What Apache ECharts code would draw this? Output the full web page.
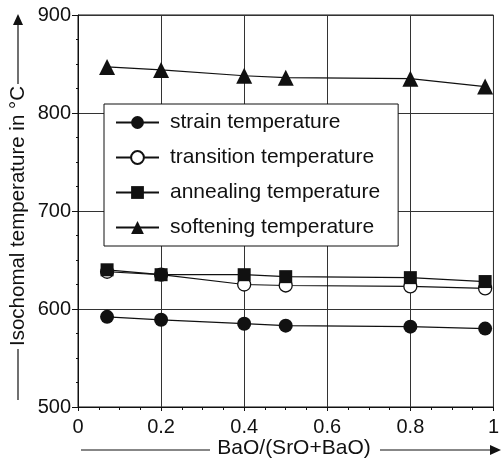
<!DOCTYPE html>
<html>
<head>
<meta charset="utf-8">
<script src="https://cdn.jsdelivr.net/npm/echarts@6/dist/echarts.min.js"></script>
<style>
html,body{margin:0;padding:0;background:#fff;}
#c{width:502px;height:461px;}
</style>
</head>
<body>
<div id="c"></div>
<script>
const xValues = [0.07, 0.2, 0.4, 0.5, 0.8, 0.98];
const strainTemp = [592, 589, 585, 583, 582, 580];
const transitionTemp = [638, 635, 625, 624, 623, 621];
const annealingTemp = [640, 635, 635, 633, 632, 628];
const softeningTemp = [847, 844, 838, 836, 835, 827];
const seriesNames = ['strain temperature', 'transition temperature', 'annealing temperature', 'softening temperature'];
const xTicks = [0, 0.2, 0.4, 0.6, 0.8, 1];
const yTicks = [500, 600, 700, 800, 900];

const FONT = '"Liberation Sans", Arial, Helvetica, sans-serif';
const INK = '#111';

function pairs(ys) { return xValues.map((x, i) => [x, ys[i]]); }

function mkSeries(name, ys, symbol, size, fill) {
  return {
    name: name,
    type: 'line',
    data: pairs(ys),
    symbol: symbol,
    symbolSize: size,
    showSymbol: true,
    lineStyle: { color: INK, width: 1.2 },
    itemStyle: { color: fill, borderColor: INK, borderWidth: fill === '#fff' ? 1.3 : 0 },
    emphasis: { disabled: true },
    z: 3
  };
}

const chart = echarts.init(document.getElementById('c'), null, { renderer: 'canvas' });
chart.setOption({
  animation: false,
  backgroundColor: '#fff',
  grid: { left: 78, right: 2, top: 15, bottom: 54, show: true, borderColor: INK, borderWidth: 1, backgroundColor: 'transparent' },
  xAxis: {
    type: 'value', min: xTicks[0], max: xTicks[xTicks.length - 1], interval: 0.2,
    axisLine: { show: true, lineStyle: { color: INK, width: 1 } },
    axisTick: { show: true, length: 4, lineStyle: { color: INK } },
    minorTick: { show: true, splitNumber: 4, length: 3, lineStyle: { color: INK } },
    splitLine: { show: true, lineStyle: { color: '#333', width: 1 } },
    axisLabel: { fontSize: 20, fontFamily: FONT, color: INK, margin: 10, formatter: v => String(+v.toFixed(1)) }
  },
  yAxis: {
    type: 'value', min: yTicks[0], max: yTicks[yTicks.length - 1], interval: 100,
    axisLine: { show: true, lineStyle: { color: INK, width: 1 } },
    axisTick: { show: true, length: 6, lineStyle: { color: INK } },
    minorTick: { show: true, splitNumber: 4, length: 2, lineStyle: { color: INK } },
    splitLine: { show: true, lineStyle: { color: '#333', width: 1 } },
    axisLabel: { fontSize: 20, fontFamily: FONT, color: INK, margin: 7 }
  },
  legend: {
    orient: 'vertical',
    left: 104, top: 104,
    data: seriesNames,
    itemWidth: 43, itemHeight: 16, itemGap: 14,
    padding: [8, 18, 8, 11],
    backgroundColor: '#fff',
    borderColor: INK, borderWidth: 1,
    textStyle: { fontSize: 21, fontFamily: FONT, color: INK, padding: [0, 0, 0, 6] },
    selectedMode: false
  },
  series: [
    mkSeries(seriesNames[0], strainTemp, 'circle', 14, INK),
    mkSeries(seriesNames[1], transitionTemp, 'circle', 13, '#fff'),
    mkSeries(seriesNames[2], annealingTemp, 'rect', 13, INK),
    mkSeries(seriesNames[3], softeningTemp, 'triangle', 16, INK)
  ],
  graphic: [
    { type: 'text', x: 18, y: 216, rotation: Math.PI / 2, style: { text: 'Isochomal temperature in °C', font: '20.5px ' + FONT, fill: INK, align: 'center', verticalAlign: 'middle' } },
    { type: 'line', shape: { x1: 18, y1: 24, x2: 18, y2: 84 }, style: { stroke: INK, lineWidth: 1.2 } },
    { type: 'polygon', shape: { points: [[18, 14], [13, 25], [23, 25]] }, style: { fill: INK } },
    { type: 'line', shape: { x1: 18, y1: 349, x2: 18, y2: 400 }, style: { stroke: INK, lineWidth: 1.2 } },
    { type: 'text', x: 294, y: 448, style: { text: 'BaO/(SrO+BaO)', font: '21px ' + FONT, fill: INK, align: 'center', verticalAlign: 'middle' } },
    { type: 'line', shape: { x1: 81, y1: 450, x2: 210, y2: 450 }, style: { stroke: INK, lineWidth: 1.2 } },
    { type: 'line', shape: { x1: 380, y1: 450, x2: 491, y2: 450 }, style: { stroke: INK, lineWidth: 1.2 } },
    { type: 'polygon', shape: { points: [[501, 450], [490, 445], [490, 455]] }, style: { fill: INK } }
  ]
});
</script>
</body>
</html>
